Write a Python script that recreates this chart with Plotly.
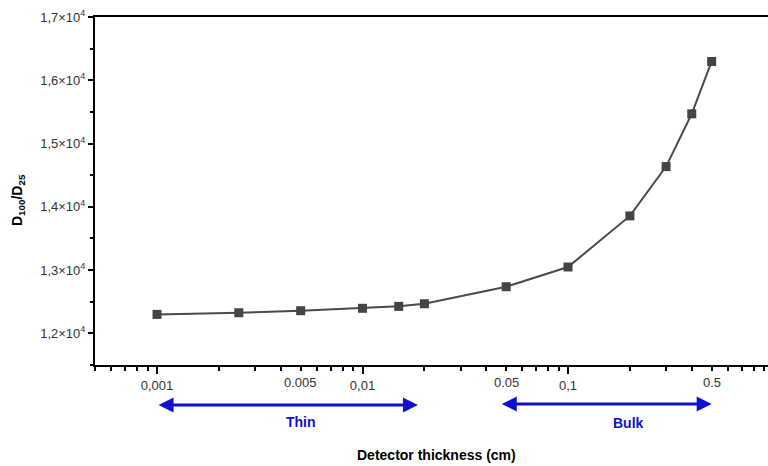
import numpy as np
import plotly.graph_objects as go

# Data
thickness_cm = [0.001, 0.0025, 0.005, 0.01, 0.015, 0.02, 0.05, 0.1, 0.2, 0.3, 0.4, 0.5]
ratio_d100_d25 = [12300, 12326, 12358, 12396, 12427, 12468, 12737, 13049, 13856, 14636, 15470, 16297]

x_major_vals = [0.001, 0.01, 0.1, 1.0]
x_major_text = ["0,001", "0,01", "0,1", "1"]
x_extra_vals = [0.005, 0.05, 0.5]
x_extra_text = ["0.005", "0.05", "0.5"]
x_minor_vals = [m * 10.0 ** e for e in (-4, -3, -2, -1) for m in range(2, 10)]

y_tick_vals = [12000, 13000, 14000, 15000, 16000, 17000]
y_tick_text = ["1,2×10<sup>4</sup>", "1,3×10<sup>4</sup>", "1,4×10<sup>4</sup>",
               "1,5×10<sup>4</sup>", "1,6×10<sup>4</sup>", "1,7×10<sup>4</sup>"]

thin_range = [0.001, 0.0186]
bulk_range = [0.0468, 0.5]

xr = [np.log10(0.000499), np.log10(0.94)]
yr = [11500, 17000]

font_family = "Liberation Sans, Arial, sans-serif"
tick_font = dict(family=font_family, size=13, color="#333333")

fig = go.Figure()
fig.add_trace(go.Scatter(
    x=thickness_cm, y=ratio_d100_d25, mode="lines+markers",
    line=dict(color="#4a4a4a", width=2),
    marker=dict(symbol="square", size=9, color="#444444", line=dict(width=0)),
    showlegend=False,
))

fig.update_layout(
    width=768, height=466,
    margin=dict(l=95, r=0, t=17, b=101),
    paper_bgcolor="white", plot_bgcolor="white",
    font=dict(family=font_family),
    xaxis=dict(
        type="log", range=xr,
        tickmode="array", tickvals=x_major_vals, ticktext=x_major_text,
        ticks="outside", ticklen=7, tickwidth=2, tickcolor="black",
        tickfont=tick_font,
        minor=dict(tickmode="array", tickvals=x_minor_vals, ticks="outside",
                   ticklen=4, tickwidth=2, tickcolor="black", showgrid=False),
        showline=True, linewidth=2, linecolor="black", mirror=True,
        showgrid=False, zeroline=False,
    ),
    yaxis=dict(
        range=yr,
        tickmode="array", tickvals=y_tick_vals, ticktext=y_tick_text,
        ticks="outside", ticklen=5, tickwidth=2, tickcolor="black",
        tickfont=tick_font,
        minor=dict(dtick=500, tick0=11500, ticks="outside", ticklen=3,
                   tickwidth=2, tickcolor="black", showgrid=False),
        showline=True, linewidth=2, linecolor="black", mirror=False,
        showgrid=False, zeroline=False,
    ),
)

# extra tick labels at half-decades (drawn as text below the axis)
for v, t in zip(x_extra_vals, x_extra_text):
    fig.add_annotation(
        x=np.log10(v), y=-(382 - 365) / 348.0, xref="x", yref="paper",
        text=t, showarrow=False, font=tick_font,
        xanchor="center", yanchor="middle",
    )

blue = "#1010d0"
arrows = [(thin_range, "Thin"), (bulk_range, "Bulk")]
arrow_y = [1 - (405 - 17) / 348.0, 1 - (404 - 17) / 348.0]
label_y = [1 - (422 - 17) / 348.0, 1 - (423 - 17) / 348.0]
label_x = [np.log10(0.00504), np.log10(0.197)]
for (rng, name), ay_, ly_, lx_ in zip(arrows, arrow_y, label_y, label_x):
    fig.add_annotation(
        x=np.log10(rng[1]), y=ay_, xref="x", yref="paper",
        ax=np.log10(rng[0]), ay=0, axref="x", ayref="pixel",
        showarrow=True, arrowside="end+start", arrowhead=2, arrowsize=1.0,
        arrowwidth=3, arrowcolor=blue, text="",
    )
    fig.add_annotation(
        x=lx_, y=ly_, xref="x", yref="paper", text="<b>" + name + "</b>",
        showarrow=False, font=dict(family=font_family, size=14, color=blue),
        xanchor="center", yanchor="middle",
    )

fig.add_annotation(
    x=(436 - 95) / 673.0, y=-(455 - 365) / 348.0, xref="paper", yref="paper",
    text="<b>Detector thickness (cm)</b>", showarrow=False,
    font=dict(family=font_family, size=14, color="black"),
    xanchor="center", yanchor="middle",
)

fig.add_annotation(
    x=-(95 - 18) / 673.0, y=1 - (200 - 17) / 348.0, xref="paper", yref="paper",
    text="<b>D<sub>100</sub>/D<sub>25</sub></b>", textangle=-90, showarrow=False,
    font=dict(family=font_family, size=14, color="black"),
    xanchor="center", yanchor="middle",
)

fig.write_html("out.html")
